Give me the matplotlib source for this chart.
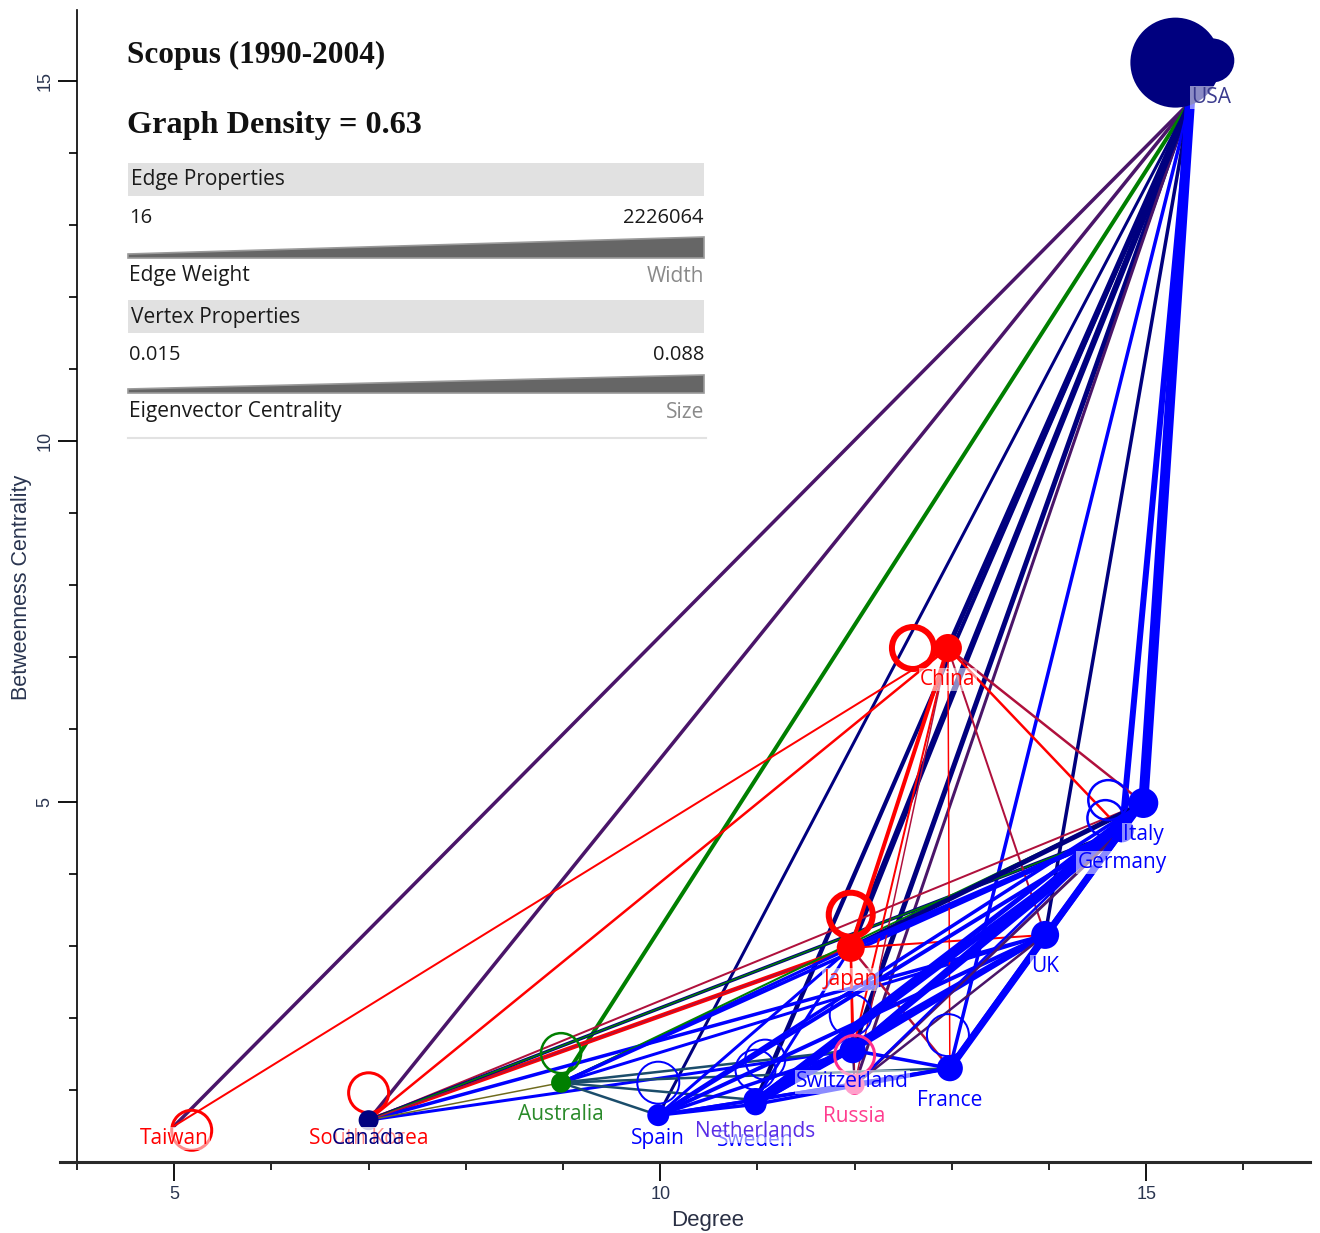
import matplotlib.pyplot as plt
from matplotlib.patches import Rectangle, Polygon
from matplotlib.ticker import MultipleLocator

# vertices: x = degree, y = betweenness centrality
countries = ['USA', 'Taiwan', 'South Korea', 'Canada', 'Australia', 'Spain', 'Sweden',
             'Netherlands', 'Switzerland', 'Russia', 'France', 'Japan', 'China', 'UK',
             'Italy', 'Germany']
degree = [15.45, 5.0, 7.0, 7.0, 8.98, 9.98, 10.98, 10.98, 11.98, 12.0, 12.98, 11.96,
          12.96, 13.96, 14.97, 14.75]
betweenness = [14.7, 0.5, 0.58, 0.58, 1.10, 0.65, 0.80, 0.86, 1.55, 1.07, 1.30, 2.97,
               7.13, 3.15, 4.98, 4.60]
node_kind = ['navy', 'red', 'red', 'navy', 'green', 'blue', 'blue', 'blue', 'blue', 'pink',
             'blue', 'red', 'red', 'blue', 'blue', 'blue']
node_radius = [0, 0, 0, 10, 10, 11, 11, 12, 13, 10, 13, 14, 14, 14, 15, 12]

# outline vertices of the second layout (USA drawn as a solid blob)
ring_x = [15.30, 15.68, 5.18, 7.0, 8.98, 9.98, 10.98, 11.08, 11.96, 12.0, 12.96, 11.96,
          12.6, 14.61, 14.58]
ring_y = [15.25, 15.28, 0.44, 0.96, 1.51, 1.10, 1.28, 1.42, 2.04, 1.48, 1.76, 3.43,
          7.13, 5.02, 4.77]
ring_kind = ['navy', 'navy', 'red', 'red', 'green', 'blue', 'blue', 'blue', 'blue', 'pink',
             'blue', 'red', 'red', 'blue', 'blue']
ring_radius = [45, 22, 20, 20, 20, 21, 20, 20, 21, 20, 21, 22, 21, 20, 18]
ring_width = [0, 0, 3, 3, 2.5, 2, 2, 2, 2, 3, 2, 6, 6, 2.5, 2.5]

# edges: source, target, colour group, drawn width (px)
edge_src = ['Taiwan', 'Canada', 'Australia', 'Spain', 'Netherlands', 'Sweden', 'Switzerland',
            'Russia', 'Japan', 'China', 'France', 'UK', 'Germany', 'Italy',
            'Taiwan', 'South Korea', 'Canada', 'Canada', 'Canada', 'Canada', 'Canada', 'Canada',
            'South Korea', 'South Korea',
            'Australia', 'Australia', 'Australia', 'Australia', 'Australia', 'Australia',
            'Australia', 'Australia',
            'China', 'China', 'China', 'China', 'China', 'China', 'China',
            'Japan', 'Japan', 'Japan', 'Japan', 'Japan', 'Japan', 'Japan', 'Japan',
            'Spain', 'Spain', 'Spain', 'Spain', 'Spain', 'Spain', 'Spain',
            'Netherlands', 'Netherlands', 'Netherlands', 'Netherlands', 'Netherlands', 'Netherlands',
            'Sweden', 'Sweden', 'Sweden', 'Sweden', 'Sweden',
            'Switzerland', 'Switzerland', 'Switzerland', 'Switzerland', 'Switzerland',
            'Russia', 'Russia', 'Russia', 'Russia',
            'France', 'France', 'France', 'UK', 'UK', 'Germany']
edge_dst = ['USA', 'USA', 'USA', 'USA', 'USA', 'USA', 'USA',
            'USA', 'USA', 'USA', 'USA', 'USA', 'USA', 'USA',
            'China', 'China', 'Japan', 'Italy', 'Germany', 'UK', 'Switzerland', 'Australia',
            'Germany', 'Japan',
            'Japan', 'Italy', 'Germany', 'UK', 'Spain', 'Netherlands', 'Switzerland', 'France',
            'Japan', 'Switzerland', 'Russia', 'France', 'UK', 'Italy', 'Germany',
            'UK', 'France', 'Italy', 'Germany', 'Switzerland', 'Russia', 'Netherlands', 'Spain',
            'Netherlands', 'Sweden', 'Switzerland', 'France', 'UK', 'Germany', 'Italy',
            'Sweden', 'Switzerland', 'France', 'UK', 'Germany', 'Italy',
            'Switzerland', 'France', 'UK', 'Germany', 'Italy',
            'France', 'UK', 'Germany', 'Italy', 'Russia',
            'France', 'UK', 'Germany', 'Italy',
            'UK', 'Germany', 'Italy', 'Germany', 'Italy', 'Italy']
edge_kind = ['purple', 'purple', 'green', 'navy', 'navy', 'navy', 'navy',
             'purple', 'navy', 'navy', 'blue', 'navy', 'blue', 'blue',
             'red', 'red', 'red', 'maroon', 'navy', 'blue', 'blue', 'olive',
             'green', 'maroon',
             'blue', 'green', 'blue', 'blue', 'teal', 'teal', 'teal', 'teal',
             'red', 'red', 'maroon', 'red', 'maroon', 'maroon', 'red',
             'red', 'maroon', 'navy', 'blue', 'red', 'red', 'blue', 'blue',
             'blue', 'blue', 'blue', 'blue', 'blue', 'blue', 'blue',
             'blue', 'blue', 'blue', 'blue', 'blue', 'blue',
             'blue', 'blue', 'blue', 'blue', 'blue',
             'blue', 'blue', 'blue', 'blue', 'purple',
             'blue', 'purple', 'purple', 'blue',
             'blue', 'blue', 'blue', 'blue', 'blue', 'blue']
edge_px = [3.5, 3.5, 4, 3, 3, 3, 5,
           3, 6, 5, 3.5, 3.5, 6, 10,
           2, 2.5, 4.5, 2, 3.5, 3.5, 3, 1.5,
           1.5, 1.5,
           3, 2, 3.5, 3, 2.5, 2.5, 2.5, 2.5,
           4, 2, 1.5, 1.5, 2, 2.5, 2.5,
           2, 2.5, 5, 5, 2.5, 2, 3, 3,
           3.5, 3.5, 3.5, 3, 4, 4, 3.5,
           3.5, 3.5, 3.5, 5, 5, 4,
           3, 3.5, 4.5, 4.5, 3.5,
           3.5, 5, 6, 5, 2,
           2.5, 2.5, 3, 2.5,
           6, 7, 5, 5, 4, 5]

palette = {'navy': '#00007f', 'blue': '#0000ff', 'red': '#ff0000', 'green': '#007f00',
           'purple': '#4a1569', 'maroon': '#b0103c', 'teal': '#1b4d6b', 'olive': '#6f6b1e',
           'pink': '#ff2e8c'}
label_color = {'USA': '#3a3a8e', 'Netherlands': '#5a2ee6', 'Australia': '#2a8a2a',
               'Russia': '#ff3d8f'}

PX = 72.0 / 100  # points per pixel at dpi 100

plt.rcParams['font.family'] = ['Liberation Sans', 'DejaVu Sans']

fig = plt.figure(figsize=(13.2, 12.33), dpi=100)
ax = fig.add_axes([60 / 1320, 71 / 1233, 1250 / 1320, 1152 / 1233])
ax.set_xlim(3.825, 16.685)
ax.set_ylim(0, 15.98)

pos = {c: (x, y) for c, x, y in zip(countries, degree, betweenness)}

# edges
for s, d, k, w in zip(edge_src, edge_dst, edge_kind, edge_px):
    (x0, y0), (x1, y1) = pos[s], pos[d]
    ax.plot([x0, x1], [y0, y1], color=palette[k], lw=w * PX, solid_capstyle='round',
            zorder=2)

# second layout vertices
for x, y, k, r, w in zip(ring_x, ring_y, ring_kind, ring_radius, ring_width):
    size = (2 * r * PX) ** 2
    if w == 0:
        ax.scatter(x, y, s=size, color=palette[k], edgecolors='none', zorder=3)
    else:
        ax.scatter(x, y, s=size, facecolors='none', edgecolors=palette[k],
                   linewidths=w * PX, zorder=3)

# filled vertices
for c, x, y, k, r in zip(countries, degree, betweenness, node_kind, node_radius):
    if r > 0:
        ax.scatter(x, y, s=(2 * r * PX) ** 2, color=palette[k], edgecolors='none', zorder=4)

# vertex labels, placed below the vertex and kept inside the plot
order = [c for c in countries if c not in ('Netherlands', 'Canada')] + ['Netherlands', 'Canada']
for c in order:
    i = countries.index(c)
    x, y = degree[i], betweenness[i]
    col = label_color.get(c, palette[node_kind[i]])
    if c == 'USA':
        lx, ly = x + 0.22, y + 0.07
    elif c == 'Sweden':
        lx, ly = x, 0.30
    else:
        lx, ly = x, max(y - 0.44, 0.33)
    ax.text(lx, ly, c, color=col, fontsize=15, family=['Open Sans', 'DejaVu Sans'],
            ha='center', va='center', zorder=5,
            bbox=dict(boxstyle='square,pad=0.05', fc='white', ec='none', alpha=0.55))

# axes styling
for side in ['top', 'right']:
    ax.spines[side].set_visible(False)
ax.spines['left'].set_position(('data', 4.0))
ax.spines['left'].set_linewidth(1.2)
ax.spines['bottom'].set_linewidth(2.2)
ax.spines['bottom'].set_color('#2a2a2a')
ax.set_xticks([5, 10, 15])
ax.set_yticks([5, 10, 15])
ax.xaxis.set_minor_locator(MultipleLocator(1))
ax.yaxis.set_minor_locator(MultipleLocator(1))
ax.tick_params(which='major', direction='out', length=13.5, width=1.3, labelsize=13,
               labelcolor='#2a3550')
ax.tick_params(which='minor', direction='out', length=6, width=1.2)
for t in ax.get_yticklabels():
    t.set_rotation(90)
    t.set_va('center')
ax.set_xlabel('Degree', fontsize=16, color='#2a3045')
ax.xaxis.set_label_coords(0.518, -0.042)
ax.set_ylabel('Betweenness Centrality', fontsize=15.5, color='#2a3550')
ax.yaxis.set_label_coords(-0.022, 0.499)

# legend panel, laid out in pixel units
lax = fig.add_axes([0, 0, 1, 1], zorder=10)
lax.set_xlim(0, 1320)
lax.set_ylim(1233, 0)
lax.axis('off')

serif = ['Liberation Serif', 'DejaVu Serif']
sans = ['Open Sans', 'DejaVu Sans']
lax.text(127, 55, 'Scopus (1990-2004)', family=serif, fontweight='bold', fontsize=22.5,
         ha='left', va='center', color='#111111')
lax.text(127, 126, 'Graph Density = 0.63', family=serif, fontweight='bold', fontsize=23.2,
         ha='left', va='center', color='#111111')

for top, head in [(163, 'Edge Properties'), (300, 'Vertex Properties')]:
    lax.add_patch(Rectangle((128, top), 576, 33, fc='#e1e1e1', ec='none'))
    lax.text(131, top + 17, head, family=sans, fontsize=15, ha='left', va='center',
             color='#1a1a1a')

legend_rows = [(218, '16', '2226064', 258, 237, 276, 'Edge Weight', 'Width'),
               (355, '0.015', '0.088', 393, 375, 412, 'Eigenvector Centrality', 'Size')]
for ty, lo, hi, base, peak, cy, cap, chan in legend_rows:
    lax.text(129, ty, lo, family=sans, fontsize=14.5, ha='left', va='center', color='#1a1a1a')
    lax.text(704, ty, hi, family=sans, fontsize=14.5, ha='right', va='center', color='#1a1a1a')
    lax.add_patch(Polygon([(128, base - 4), (704, peak), (704, base), (128, base)],
                          closed=True, fc='#666666', ec='#9a9a9a', lw=1.2))
    lax.text(129, cy, cap, family=sans, fontsize=15, ha='left', va='center', color='#1a1a1a')
    lax.text(704, cy, chan, family=sans, fontsize=15, ha='right', va='center', color='#8a8a8a')
lax.plot([128, 706], [438, 438], color='#e2e2e2', lw=1.5)

fig.savefig('out.png', dpi=100)
